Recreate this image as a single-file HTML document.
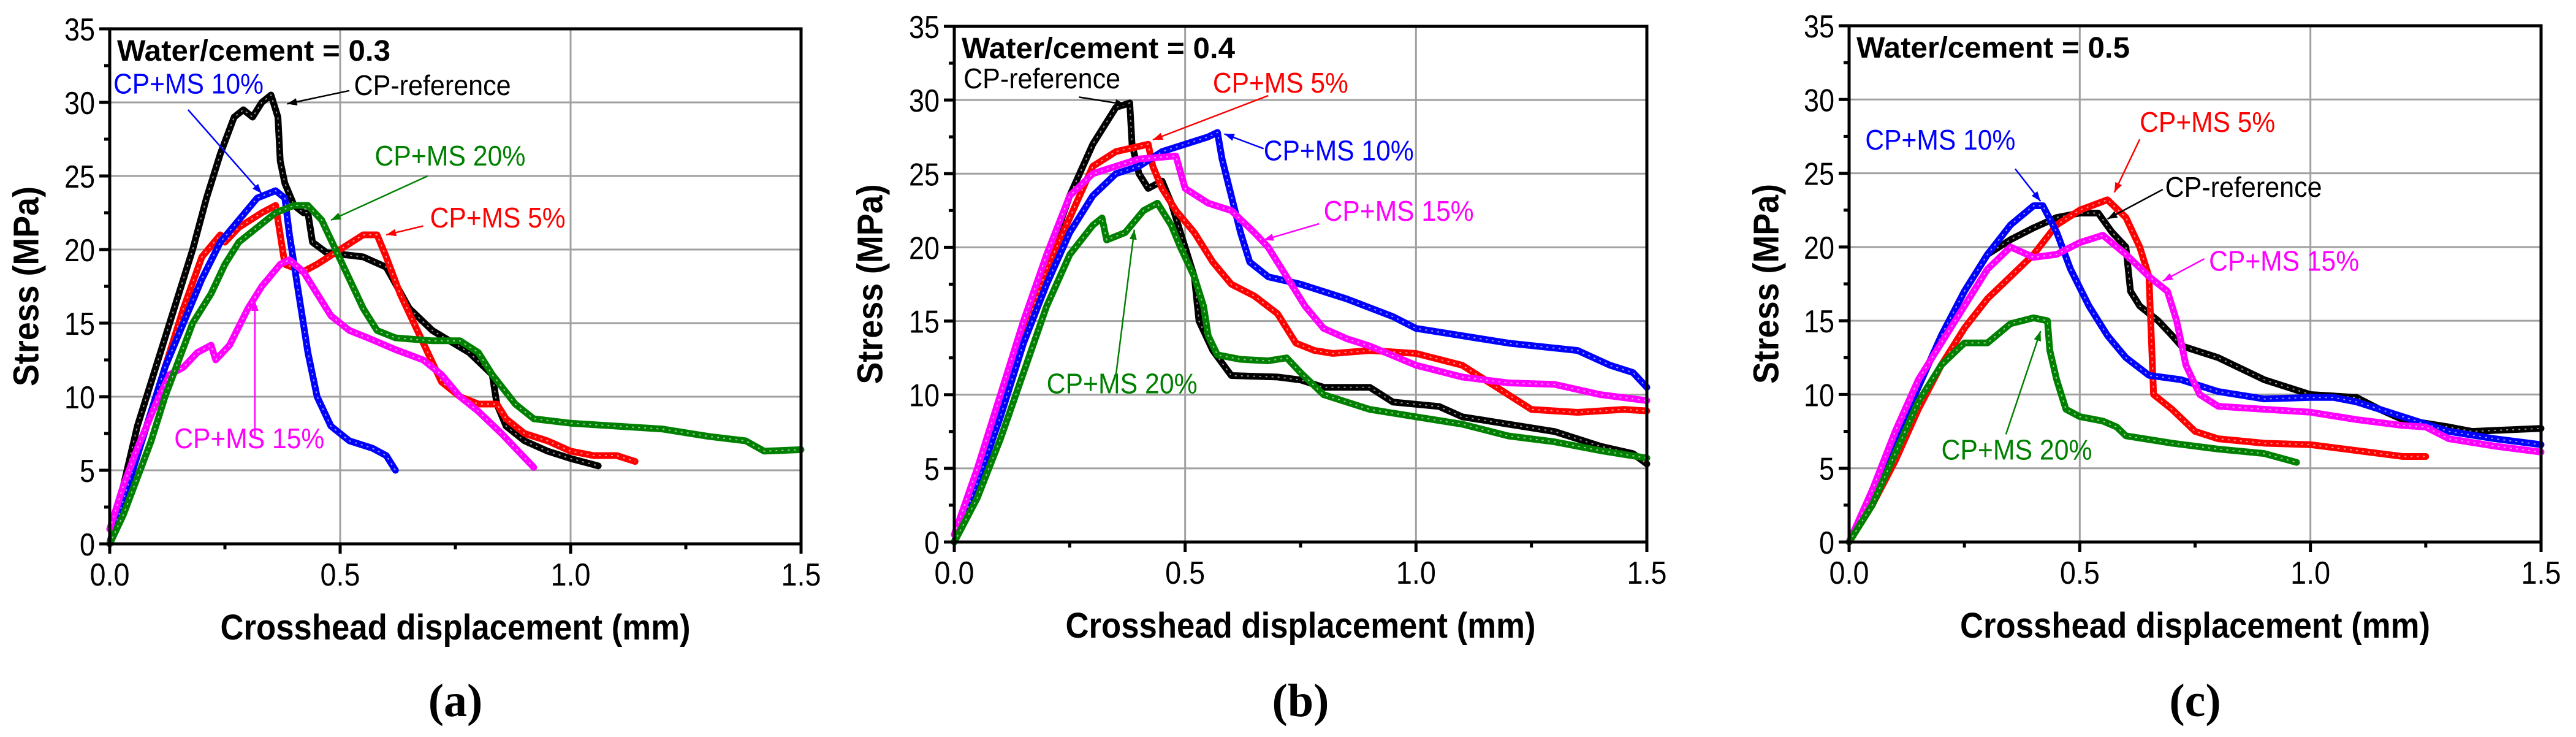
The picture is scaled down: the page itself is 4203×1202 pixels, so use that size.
<!DOCTYPE html>
<html><head><meta charset="utf-8">
<style>
html,body{margin:0;padding:0;background:#fff;}
svg{display:block;}
text{font-family:"Liberation Sans",Arial,sans-serif;}
</style></head>
<body>
<svg id="fig" width="4203" height="1202" viewBox="0 0 4203 1202" xmlns="http://www.w3.org/2000/svg">
</svg>
<script>
// ---------- data ----------
const xTicks = [0, 0.5, 1.0, 1.5];
const xTickLabels = ["0.0", "0.5", "1.0", "1.5"];
const yTicks = [0, 5, 10, 15, 20, 25, 30, 35];
const yTickLabels = ["0", "5", "10", "15", "20", "25", "30", "35"];
const seriesNames = ["CP-reference", "CP+MS 5%", "CP+MS 10%", "CP+MS 15%", "CP+MS 20%"];
const seriesColors = ["#000000", "#ff0000", "#0000ff", "#ff00ff", "#008000"];

// Panel (a) water/cement 0.3
const a_ref = [[0,0],[0.03,4],[0.06,8],[0.09,11],[0.12,14],[0.15,17],[0.18,20],[0.21,23.5],[0.24,26.5],[0.27,29],[0.29,29.5],[0.31,29],[0.33,30],[0.35,30.5],[0.365,29],[0.37,26],[0.38,24.5],[0.40,23],[0.42,22.5],[0.43,22.5],[0.44,20.5],[0.47,19.8],[0.55,19.5],[0.60,18.8],[0.65,16],[0.7,14.5],[0.78,13],[0.83,11.5],[0.84,9.5],[0.86,8],[0.9,7],[0.95,6.3],[1.0,5.8],[1.06,5.3]];
const a_ms5 = [[0,0],[0.04,4],[0.08,8],[0.12,12],[0.16,16],[0.2,19.5],[0.24,21],[0.25,20.5],[0.28,21.5],[0.33,22.5],[0.36,23],[0.37,21],[0.38,19],[0.42,18.5],[0.45,19],[0.50,20],[0.55,21],[0.58,21],[0.6,19.5],[0.63,17],[0.66,15],[0.69,13],[0.72,11],[0.76,10],[0.8,9.5],[0.84,9.5],[0.86,8.5],[0.9,7.5],[0.95,7],[1.0,6.3],[1.05,6],[1.1,6],[1.14,5.6]];
const a_ms10 = [[0,0],[0.04,4],[0.08,8],[0.12,12],[0.16,15],[0.2,18],[0.24,20.5],[0.28,22],[0.32,23.5],[0.36,24],[0.38,23.5],[0.39,21],[0.41,17],[0.43,13],[0.45,10],[0.48,8],[0.52,7],[0.57,6.5],[0.6,6],[0.62,5]];
const a_ms15 = [[0,1],[0.03,4],[0.06,6.5],[0.08,8],[0.1,9.5],[0.13,11.5],[0.16,12],[0.19,13],[0.22,13.5],[0.23,12.5],[0.26,13.5],[0.3,16],[0.33,17.5],[0.37,19],[0.39,19.3],[0.42,18.5],[0.45,17],[0.48,15.5],[0.52,14.5],[0.56,14],[0.62,13.2],[0.68,12.5],[0.72,11.5],[0.76,10],[0.8,9],[0.85,7.5],[0.92,5.2]];
const a_ms20 = [[0,0],[0.03,2],[0.06,4.5],[0.09,7],[0.12,10],[0.15,12.5],[0.18,15],[0.22,17],[0.25,19],[0.28,20.5],[0.32,21.5],[0.36,22.5],[0.4,23],[0.43,23],[0.46,22],[0.49,20],[0.52,18],[0.55,16],[0.58,14.5],[0.62,14],[0.7,13.8],[0.76,13.8],[0.8,13],[0.83,11.5],[0.88,9.5],[0.92,8.5],[1.0,8.2],[1.1,8],[1.2,7.8],[1.3,7.3],[1.38,7],[1.42,6.3],[1.5,6.4]];

// Panel (b) water/cement 0.4
const b_ref = [[0,0],[0.05,4],[0.1,9],[0.15,14],[0.2,19],[0.25,23.5],[0.3,27],[0.35,29.5],[0.38,29.8],[0.385,27],[0.4,25],[0.42,24],[0.45,24.5],[0.47,23],[0.5,20],[0.52,18],[0.53,15],[0.56,13],[0.6,11.3],[0.7,11.2],[0.75,11],[0.8,10.5],[0.9,10.5],[0.95,9.5],[1.05,9.2],[1.1,8.5],[1.2,8],[1.3,7.5],[1.4,6.5],[1.47,6],[1.5,5.3]];
const b_ms5 = [[0,0],[0.05,4],[0.1,9],[0.15,14],[0.2,18.5],[0.25,22],[0.3,25.5],[0.35,26.5],[0.42,27],[0.43,25.5],[0.45,24],[0.48,22.5],[0.52,21],[0.56,19],[0.6,17.5],[0.65,16.7],[0.7,15.5],[0.74,13.5],[0.78,13],[0.82,12.8],[0.9,13],[1.0,12.8],[1.1,12],[1.15,11],[1.2,10],[1.25,9],[1.35,8.8],[1.45,9],[1.5,8.9]];
const b_ms10 = [[0,0],[0.05,4],[0.1,8.5],[0.15,13.5],[0.2,17.5],[0.25,21],[0.3,23.5],[0.35,25],[0.4,25.5],[0.45,26.5],[0.5,27],[0.55,27.5],[0.57,27.8],[0.58,26],[0.6,23.5],[0.62,21],[0.64,19],[0.68,18],[0.75,17.5],[0.85,16.5],[0.95,15.3],[1.0,14.5],[1.1,14],[1.2,13.5],[1.35,13],[1.42,12],[1.47,11.5],[1.5,10.5]];
const b_ms15 = [[0,0.5],[0.05,5],[0.1,10],[0.15,15],[0.2,19.5],[0.25,23.5],[0.3,25],[0.35,25.5],[0.4,26],[0.48,26.2],[0.5,24],[0.55,23],[0.6,22.5],[0.65,21],[0.68,20],[0.72,18],[0.76,16],[0.8,14.5],[0.85,13.8],[0.9,13.3],[1.0,12],[1.1,11.2],[1.2,10.8],[1.3,10.7],[1.4,10],[1.5,9.6]];
const b_ms20 = [[0,0],[0.05,3],[0.1,7],[0.15,11.5],[0.2,16],[0.25,19.5],[0.3,21.5],[0.32,22],[0.33,20.5],[0.37,21],[0.41,22.5],[0.44,23],[0.47,21.5],[0.49,20],[0.52,18],[0.54,16],[0.55,14],[0.57,12.7],[0.62,12.4],[0.68,12.3],[0.72,12.5],[0.75,11.5],[0.8,10],[0.9,9],[1.0,8.5],[1.1,8],[1.2,7.2],[1.3,6.8],[1.4,6.2],[1.5,5.7]];

// Panel (c) water/cement 0.5
const c_ref = [[0,0],[0.05,3],[0.1,7],[0.15,10.5],[0.2,14],[0.25,17],[0.3,19.5],[0.35,20.5],[0.4,21.3],[0.45,22],[0.5,22.3],[0.54,22.3],[0.57,21],[0.6,20],[0.61,17],[0.63,16],[0.67,15],[0.7,14],[0.72,13.3],[0.8,12.5],[0.9,11],[1.0,10],[1.1,9.8],[1.15,9],[1.2,8.3],[1.3,7.8],[1.35,7.5],[1.5,7.7]];
const c_ms5 = [[0,0],[0.05,2.5],[0.1,5.5],[0.15,9],[0.2,12],[0.25,14.5],[0.3,16.5],[0.35,18],[0.4,19.5],[0.45,21.5],[0.5,22.5],[0.56,23.2],[0.6,22],[0.63,20],[0.65,18],[0.655,14],[0.66,10],[0.7,9],[0.75,7.5],[0.8,7],[0.9,6.7],[1.0,6.6],[1.1,6.2],[1.2,5.8],[1.25,5.8]];
const c_ms10 = [[0,0],[0.05,3],[0.1,7],[0.15,10.5],[0.2,14],[0.25,17],[0.3,19.5],[0.35,21.5],[0.4,22.8],[0.42,22.8],[0.45,21],[0.48,18.5],[0.52,16],[0.56,14],[0.6,12.5],[0.65,11.3],[0.72,11],[0.8,10.2],[0.9,9.7],[1.0,9.8],[1.05,9.8],[1.1,9.5],[1.2,8.5],[1.3,7.5],[1.4,7],[1.5,6.6]];
const c_ms15 = [[0,0],[0.05,3.5],[0.1,7.5],[0.15,11],[0.2,13.5],[0.25,16],[0.3,18.5],[0.35,20],[0.4,19.3],[0.45,19.5],[0.5,20.3],[0.55,20.8],[0.6,19.5],[0.65,18],[0.69,17],[0.71,15],[0.73,12],[0.76,10],[0.8,9.2],[0.9,9],[1.0,8.8],[1.1,8.3],[1.2,7.9],[1.25,7.8],[1.3,7],[1.4,6.5],[1.5,6.1]];
const c_ms20 = [[0,0],[0.05,2.5],[0.1,6],[0.15,9.5],[0.2,12],[0.25,13.5],[0.3,13.5],[0.35,14.8],[0.4,15.2],[0.43,15],[0.435,13],[0.45,11],[0.47,9],[0.5,8.5],[0.55,8.2],[0.58,7.8],[0.6,7.2],[0.7,6.7],[0.8,6.3],[0.9,6],[0.97,5.4]];

// annotations: [series index, text x, text baseline y, arrow from x,y, arrow to x,y] (data units)
const a_notes = [[2,0.008,30.6,0.17,29.5,0.33,23.8],[0,0.53,30.5,0.52,30.8,0.385,29.9],[4,0.575,25.7,0.69,25,0.48,22],[1,0.695,21.5,0.68,21.6,0.6,21],[3,0.14,6.5,0.315,7.2,0.315,16.5]];
const b_notes = [[0,0.02,30.8,0.27,30.2,0.37,29.7],[1,0.56,30.5,0.68,30.3,0.43,27.3],[2,0.67,25.9,0.67,26.7,0.585,27.7],[3,0.8,21.8,0.79,21.6,0.67,20.5],[4,0.2,10.1,0.35,11.3,0.39,21.2]];
const c_notes = [[2,0.035,26.6,0.36,25.3,0.415,23.1],[1,0.63,27.8,0.63,27.3,0.575,23.7],[0,0.685,23.4,0.68,23.9,0.56,21.9],[3,0.78,18.4,0.77,19.2,0.68,17.7],[4,0.2,5.6,0.34,7.3,0.415,14.3]];

// ---------- drawing ----------
const NS = "http://www.w3.org/2000/svg";
const svg = document.getElementById("fig");
function mk(tag, attrs, parent) {
  const e = document.createElementNS(NS, tag);
  for (const k in attrs) e.setAttribute(k, attrs[k]);
  (parent || svg).appendChild(e);
  return e;
}
const labelWidths = {"CP-reference":256, "CP+MS 5%":221, "CP+MS 10%":245, "CP+MS 15%":245, "CP+MS 20%":246};
const panels = [
  {id:"a", L:179, R:1307, T:47, B:887, title:"Water/cement = 0.3", series:[a_ref,a_ms5,a_ms10,a_ms15,a_ms20], notes:a_notes, ylabX:43},
  {id:"b", L:1557, R:2687, T:43, B:884, title:"Water/cement = 0.4", series:[b_ref,b_ms5,b_ms10,b_ms15,b_ms20], notes:b_notes, ylabX:1420},
  {id:"c", L:3017, R:4146, T:42, B:884, title:"Water/cement = 0.5", series:[c_ref,c_ms5,c_ms10,c_ms15,c_ms20], notes:c_notes, ylabX:2882}
];
panels.forEach(p => {
  const sx = v => p.L + v / 1.5 * (p.R - p.L);
  const sy = v => p.B - v / 35 * (p.B - p.T);
  const g = mk("g", {});
  
  
  xTicks.forEach(t => { if (t > 0 && t < 1.5) {
    const l = mk("line", {x1:sx(t), x2:sx(t), y1:p.T, y2:p.B, stroke:"#a0a0a0", "stroke-width":3}, g);
    
    
  }});
  yTicks.forEach(t => { if (t > 0 && t < 35) {
    const l = mk("line", {x1:p.L, x2:p.R, y1:sy(t), y2:sy(t), stroke:"#a0a0a0", "stroke-width":3}, g);
    
    
  }});
  p.series.forEach((s, i) => {
    const pts = s.map(d => sx(d[0]) + "," + sy(d[1])).join(" ");
    const pl = mk("polyline", {points: pts, fill:"none", stroke:seriesColors[i], "stroke-width":11, "stroke-linejoin":"round", "stroke-linecap":"round"}, g);
    
    
    const pl2 = mk("polyline", {points: pts, fill:"none", stroke:"#ffffff", "stroke-width":2, "stroke-dasharray":"3 7", opacity:0.6}, g);
    
    
  });
  const fr = mk("rect", {x:p.L, y:p.T, width:p.R - p.L, height:p.B - p.T, fill:"none", stroke:"#000", "stroke-width":5}, g);
  
  
  for (let v = 0; v <= 1.5001; v += 0.25) {
    const major = Math.abs(v * 2 - Math.round(v * 2)) < 1e-6;
    const t = mk("line", {x1:sx(v), x2:sx(v), y1:p.B, y2:p.B + (major ? 16 : 9), stroke:"#000", "stroke-width":5}, g);
    
    
  }
  xTicks.forEach((v, i) => {
    const t = mk("text", {x:sx(v), y:p.B + 68, "font-size":52, "text-anchor":"middle", fill:"#000", textLength:65, lengthAdjust:"spacingAndGlyphs"}, g);
    t.textContent = xTickLabels[i];
    
    
  });
  for (let v = 0; v <= 35.001; v += 2.5) {
    const major = Math.abs(v / 5 - Math.round(v / 5)) < 1e-6;
    const t = mk("line", {x1:p.L - (major ? 17 : 9), x2:p.L, y1:sy(v), y2:sy(v), stroke:"#000", "stroke-width":5}, g);
    
    
  }
  yTicks.forEach((v, i) => {
    const lab = yTickLabels[i];
    const t = mk("text", {x:p.L - 24, y:sy(v) + 19, "font-size":52, "text-anchor":"end", fill:"#000", textLength:(lab.length === 1 ? 25 : 50), lengthAdjust:"spacingAndGlyphs"}, g);
    t.textContent = lab;
    
    
  });
  const xt = mk("text", {x:(p.L + p.R) / 2, y:p.B + 156, "font-size":58, "font-weight":"bold", "text-anchor":"middle", fill:"#000", textLength:767, lengthAdjust:"spacingAndGlyphs"}, g);
  xt.textContent = "Crosshead displacement (mm)";
  
  
  const yc = (p.T + p.B) / 2;
  const yt = mk("text", {x:p.ylabX, y:yc, "font-size":58, "font-weight":"bold", "text-anchor":"middle", "dominant-baseline":"central", fill:"#000", textLength:326, lengthAdjust:"spacingAndGlyphs", transform:"rotate(-90 " + p.ylabX + " " + yc + ")"}, g);
  yt.textContent = "Stress (MPa)";
  
  
  const tt = mk("text", {x:p.L + 12, y:p.T + 52, "font-size":48, "font-weight":"bold", fill:"#000", textLength:446, lengthAdjust:"spacingAndGlyphs"}, g);
  tt.textContent = p.title;
  
  
  p.notes.forEach(n => {
    const col = seriesColors[n[0]];
    const ar = mk("line", {x1:sx(n[3]), y1:sy(n[4]), x2:sx(n[5]), y2:sy(n[6]), stroke:col, "stroke-width":2.5}, g);
    
    
    const x2 = sx(n[5]), y2 = sy(n[6]), dx = x2 - sx(n[3]), dy = y2 - sy(n[4]);
    const len = Math.hypot(dx, dy), ux = dx / len, uy = dy / len;
    const hl = 16, hw = 6;
    const pts = [x2, y2, x2 - ux * hl - uy * hw, y2 - uy * hl + ux * hw, x2 - ux * hl + uy * hw, y2 - uy * hl - ux * hw];
    const hd = mk("polygon", {points: pts.join(","), fill:col}, g);
    
    
    const name = seriesNames[n[0]];
    const tx = mk("text", {x:sx(n[1]), y:sy(n[2]), "font-size":46, fill:col, textLength:labelWidths[name], lengthAdjust:"spacingAndGlyphs"}, g);
    tx.textContent = name;
    
    
  });
  const cap = mk("text", {x:(p.L + p.R) / 2, y:1168, "font-size":76, "font-weight":"bold", "text-anchor":"middle", fill:"#000"}, g);
  cap.style.fontFamily = '"Liberation Serif", serif';
  cap.textContent = "(" + p.id + ")";
  
  
});
</script>
</body></html>
